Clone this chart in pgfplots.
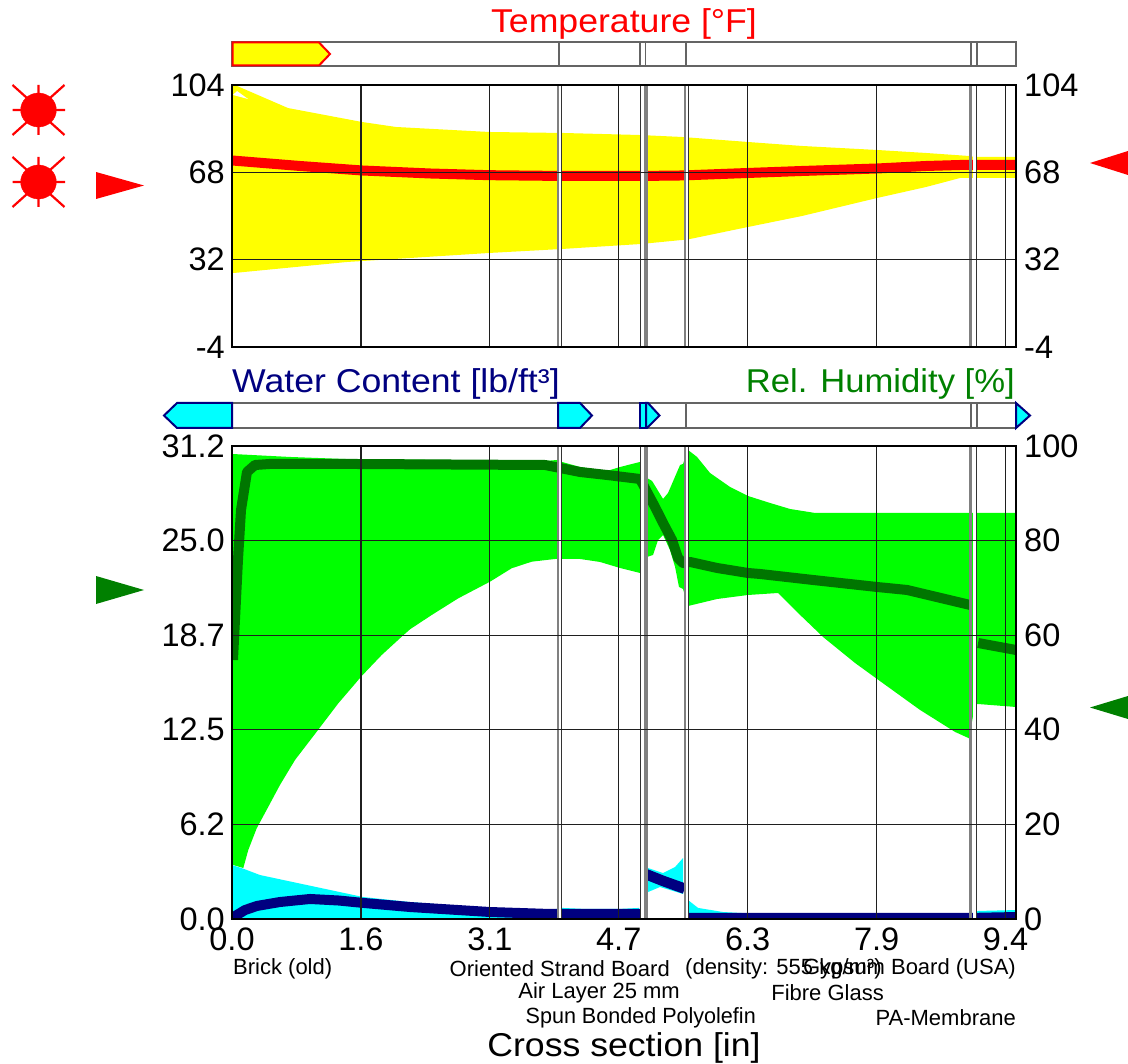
\documentclass[border=0pt]{standalone}
\usepackage{pgfplots}
\pgfplotsset{compat=1.18}
\usepackage{graphicx}
\usepackage{fontspec}
\setmainfont{Liberation Sans}
\newfontfamily\bigf[FakeStretch=1.08]{Liberation Sans}
\newcommand\bigt{\bigf\fontsize{33}{33}\selectfont}
\newcommand\tickt{\rmfamily\fontsize{32.5}{32.5}\selectfont}
\newcommand\smallt{\rmfamily\fontsize{22}{22}\selectfont}
\definecolor{dkgreen}{RGB}{0,128,0}
\definecolor{lngreen}{RGB}{0,118,0}
\definecolor{navyb}{RGB}{0,0,128}
\definecolor{hgreen}{RGB}{0,255,0}
\definecolor{hyellow}{RGB}{255,255,0}
\definecolor{hcyan}{RGB}{0,255,255}
\definecolor{hred}{RGB}{255,0,0}
\definecolor{bargray}{RGB}{100,100,100}

\pgfplotsset{
  panel/.style={
    scale only axis, width=784pt,
    xmin=0, xmax=9.578,
    xtick={0,1.575,3.15,4.725,6.3,7.875,9.45},
    major tick length=0pt,
    axis line style={line width=2.4pt, black},
    tick label style={font=\tickt, inner sep=0pt},
    unbounded coords=jump,
  },
  gridded/.style={
    xmajorgrids, ymajorgrids, axis on top,
    major grid style={line width=1.2pt, black!88},
  },
  barbox/.style={draw=bargray, line width=1.6pt, fill=white},
}

% layer boundaries, args: ymin ymax
\newcommand\layers[2]{
  \addplot[white, line width=3pt] coordinates {(4.001,#1)(4.001,#2) (nan,nan) (5.016,#1)(5.016,#2) (nan,nan) (5.553,#1)(5.553,#2) (nan,nan) (9.065,#1)(9.065,#2)};
  \addplot[gray, line width=2pt] coordinates {(3.979,#1)(3.979,#2) (nan,nan) (5.529,#1)(5.529,#2)};
  \addplot[gray, line width=3.2pt] coordinates {(5.058,#1)(5.058,#2) (nan,nan) (9.023,#1)(9.023,#2)};
  \addplot[black!80, line width=1pt] coordinates {(4.020,#1)(4.020,#2) (nan,nan) (4.985,#1)(4.985,#2) (nan,nan) (5.571,#1)(5.571,#2) (nan,nan) (9.090,#1)(9.090,#2)};
}

\begin{document}
\begin{tikzpicture}
\path[use as bounding box] (0,0) rectangle (1128pt,1064pt);

% ---- everything outside the plot frames, in pixel units
\begin{axis}[
  at={(0pt,0pt)}, anchor=south west,
  scale only axis, width=1128pt, height=1064pt,
  xmin=0, xmax=1128, ymin=0, ymax=1064, y dir=reverse,
  hide axis, clip=false, unbounded coords=jump,
]
% top bar
\addplot[barbox] coordinates {(232,42)(1016,42)(1016,66)(232,66)} -- cycle;
\addplot[bargray, line width=1.2pt] coordinates {(559,42)(559,66) (nan,nan) (640,42)(640,66) (nan,nan) (645.5,42)(645.5,66) (nan,nan) (686,42)(686,66) (nan,nan) (971,42)(971,66) (nan,nan) (977,42)(977,66)};
\addplot[fill=hyellow, draw=hred, line width=2pt] coordinates {(232.5,42.5)(319,42.5)(330,54)(319,65.5)(232.5,65.5)} -- cycle;
% water bar
\addplot[barbox] coordinates {(232,403)(1016,403)(1016,428)(232,428)} -- cycle;
\addplot[bargray, line width=1.2pt] coordinates {(559,403)(559,428) (nan,nan) (686,403)(686,428) (nan,nan) (971,403)(971,428) (nan,nan) (977,403)(977,428)};
\addplot[fill=hcyan, draw=navyb, line width=2pt] coordinates {(232,403)(177,403)(164,415.5)(177,428)(232,428)} -- cycle;
\addplot[fill=hcyan, draw=navyb, line width=2pt] coordinates {(558,403)(580,403)(592,415.5)(580,428)(558,428)} -- cycle;
\addplot[fill=hcyan, draw=navyb, line width=2pt] coordinates {(640,403)(646,403)(646,428)(640,428)} -- cycle;
\addplot[fill=hcyan, draw=navyb, line width=2pt] coordinates {(646,403)(648,403)(659.5,415.5)(647,428)(646,428)} -- cycle;
\addplot[fill=hcyan, draw=navyb, line width=2pt] coordinates {(1016,403)(1030,415.5)(1016,428)} -- cycle;
% suns
\addplot[only marks, mark=*, mark size=17pt, color=hred, mark options={xscale=1.05}] coordinates {(38.5,110)(38.5,182)};
\addplot[hred, line width=2.2pt] coordinates {(12.5,85)(27,98) (nan,nan) (64.5,85)(50,98) (nan,nan) (12.5,135)(27,122) (nan,nan) (64.5,135)(50,122) (nan,nan) (12.5,110)(21,110) (nan,nan) (56,110)(65,110) (nan,nan) (38.5,85)(38.5,93) (nan,nan) (38.5,127)(38.5,135)};
\addplot[hred, line width=2.2pt] coordinates {(12.5,157)(27,170) (nan,nan) (64.5,157)(50,170) (nan,nan) (12.5,207)(27,194) (nan,nan) (64.5,207)(50,194) (nan,nan) (12.5,182)(21,182) (nan,nan) (56,182)(65,182) (nan,nan) (38.5,157)(38.5,165) (nan,nan) (38.5,199)(38.5,207)};
% boundary condition pointers
\addplot[fill=hred, draw=none] coordinates {(96,172)(144,185.5)(96,199)} -- cycle;
\addplot[fill=hred, draw=none] coordinates {(1128,151)(1090,163)(1128,175)} -- cycle;
\addplot[fill=dkgreen, draw=none] coordinates {(96,576)(144,590)(96,604)} -- cycle;
\addplot[fill=dkgreen, draw=none] coordinates {(1128,696)(1090,707.5)(1128,719)} -- cycle;
% titles
\node[font=\bigt, text=hred, inner sep=0pt] at (axis cs:624,24) {Temperature [°F]};
\node[font=\bigt, text=navyb, inner sep=0pt, anchor=west] at (axis cs:232,384) {Water Content [lb/ft³]};
\node[font=\bigt, text=dkgreen, inner sep=0pt, anchor=east] at (axis cs:1015,384) {\scalebox{0.972}[1]{Rel. Humidity [\%]}};
\node[font=\bigt, inner sep=0pt] at (axis cs:624,1048) {Cross section [in]};
% layer names
\node[font=\smallt, inner sep=0pt, anchor=west] at (axis cs:233,969) {Brick (old)};
\node[font=\smallt, inner sep=0pt, anchor=east] at (axis cs:670,969) {Oriented Strand Board};
\node[font=\smallt, inner sep=0pt, anchor=west] at (axis cs:685,969) {(density: 555 kg/m³)};
\node[font=\smallt, inner sep=0pt, anchor=east] at (axis cs:1016,969) {Gypsum Board (USA)};
\node[font=\smallt, inner sep=0pt, anchor=east] at (axis cs:680,993) {Air Layer 25 mm};
\node[font=\smallt, inner sep=0pt, anchor=east] at (axis cs:884,993) {Fibre Glass};
\node[font=\smallt, inner sep=0pt, anchor=east] at (axis cs:756,1018) {\scalebox{0.98}[1]{Spun Bonded Polyolefin}};
\node[font=\smallt, inner sep=0pt, anchor=east] at (axis cs:1016,1018) {PA-Membrane};
\end{axis}

% ---- temperature
\begin{axis}[
  panel, gridded,
  at={(232pt,717pt)}, anchor=south west, height=262pt,
  ymin=-4, ymax=104, ytick={-4,32,68,104},
  yticklabels={-4,32,68,104},
  xticklabels={},
  yticklabel style={xshift=-7pt},
]
\addplot[fill=hyellow, draw=none] coordinates {
  (0,103.6) (0.061,103.6) (0.684,94.5) (1.588,88.75) (2.004,86.69) (3.140,84.63)
  (4.056,84.21) (4.973,83.39) (5.498,82.57) (6.304,80.5) (6.964,78.86) (7.881,77.21)
  (8.479,75.97) (9.005,74.73) (9.078,74.32) (9.578,74.32)
  (9.578,65.66) (8.895,65.66) (8.479,61.95) (7.881,57.42) (6.964,50.0) (6.304,45.47)
  (5.596,40.52) (5.498,40.11) (4.997,38.46) (4.032,36.4) (3.140,34.75) (1.405,31.04)
  (0.024,26.5) (0,26.5)
} -- cycle;
\addplot[fill=white, draw=none] coordinates {(0.012,99.88) (0.196,98.23) (0.061,101.5)} -- cycle;
\addplot[hred, line width=10pt, line join=round] coordinates {
  (0,72.88) (0.831,70.61) (1.588,68.76) (2.419,67.52) (3.140,66.82) (4.056,66.49)
  (4.985,66.49) (5.498,66.7) (6.304,67.73) (6.964,68.55) (7.881,69.58) (8.479,70.61)
  (8.895,71.02) (9.578,71.11)
};
\layers{-4}{104}
\end{axis}
\begin{axis}[
  panel,
  at={(232pt,717pt)}, anchor=south west, height=262pt,
  ymin=-4, ymax=104, ytick={-4,32,68,104},
  yticklabels={-4,32,68,104},
  xticklabels={},
  yticklabel pos=right,
  yticklabel style={xshift=8pt},
]
\addplot[draw=none] coordinates {(0,0)};
\end{axis}

% ---- relative humidity, right scale
\begin{axis}[
  panel,
  at={(232pt,145pt)}, anchor=south west, height=473pt,
  ymin=0, ymax=100, ytick={0,20,40,60,80,100},
  yticklabels={0,20,40,60,80,100},
  xticklabels={},
  yticklabel pos=right,
  yticklabel style={xshift=8pt},
]
\addplot[fill=hgreen, draw=none] coordinates {
  (0,98.31) (0.709,97.68) (1.381,97.25) (2.664,97.04) (3.824,96.83) (3.971,97.04)
  (4.032,96.62) (4.252,95.56) (4.582,94.72) (4.741,95.56) (4.985,96.62) (5.046,96.62)
  (5.070,93.24) (5.132,92.6) (5.266,88.8) (5.327,90.07) (5.474,95.98) (5.510,96.2)
  (5.571,99.16) (5.681,97.68) (5.840,94.29) (6.085,91.33) (6.304,89.43) (6.573,87.95)
  (6.818,86.68) (7.123,85.84) (9.578,85.84)
  (9.578,44.82) (9.115,45.45) (9.078,45.45) (9.005,38.2) (8.834,39.54) (8.406,44.19)
  (7.881,50.74) (7.612,54.12) (7.221,59.62) (6.903,64.9) (6.671,68.92) (6.304,68.5)
  (5.926,67.65) (5.571,66.17) (5.510,69.77) (5.461,70.19) (5.413,74.42) (5.351,78.01)
  (5.266,81.19) (5.205,80.13) (5.144,76.96) (5.070,76.53) (5.034,73.15) (4.985,73.15)
  (4.741,74.21) (4.496,75.48) (4.252,76.11) (3.946,76.11) (3.662,75.54) (3.417,74.15)
  (3.152,71.31) (2.765,67.8) (2.440,64.27) (2.175,61.25) (2.073,59.68) (1.829,55.81)
  (1.585,51.38) (1.299,45.6) (1.035,39.6) (0.770,33.62) (0.586,28.33) (0.444,23.74)
  (0.302,19.18) (0.199,14.59) (0.138,10.78) (0.012,11.42) (0,11.42)
} -- cycle;
\addplot[lngreen, line width=10pt, line join=round] coordinates {
  (0.012,54.76) (0.073,75.9) (0.110,86.47) (0.183,94.5) (0.281,95.98) (0.464,96.2)
  (1.442,96.2) (3.824,95.98) (4.252,94.5) (4.582,93.87) (4.985,93.02) (5.070,90.28)
  (5.168,87.1) (5.266,83.72) (5.376,80.13) (5.449,76.32) (5.510,75.27) (5.596,75.48)
  (5.926,74.21) (6.304,73.15) (6.451,72.94) (7.099,71.67) (7.881,70.19) (8.247,69.56) (9.017,66.39)
  (nan,nan)
  (9.115,58.35) (9.578,56.87)
};
\end{axis}

% ---- water content, left scale
\begin{axis}[
  panel, gridded,
  at={(232pt,145pt)}, anchor=south west, height=473pt,
  ymin=0, ymax=31.2, ytick={0,6.24,12.48,18.72,24.96,31.2},
  yticklabels={0.0,6.2,12.5,18.7,25.0,31.2},
  xticklabels={0.0,1.6,3.1,4.7,6.3,7.9,9.4},
  xticklabel style={yshift=-9pt},
  yticklabel style={xshift=-7pt},
]
\addplot[fill=hcyan, draw=none] coordinates {
  (0,3.56) (0.147,3.30) (0.342,2.90) (1.601,1.45) (2.175,1.12) (3.067,0.73) (3.885,0.59)
  (4.032,0.73) (4.325,0.66) (4.716,0.66) (4.973,0.73) (4.973,0) (0,0)
} -- cycle;
\addplot[fill=hcyan, draw=none] coordinates {
  (5.083,3.36) (5.266,3.03) (5.413,3.43) (5.510,4.02) (5.510,1.65) (5.229,2.11) (5.083,1.78)
} -- cycle;
\addplot[fill=hcyan, draw=none] coordinates {
  (5.571,1.25) (5.694,0.73) (5.999,0.46) (6.451,0.33) (9.017,0.33) (9.115,0.53) (9.578,0.59)
  (9.578,0) (5.571,0)
} -- cycle;
\addplot[navyb, line width=10pt, line join=round] coordinates {
  (0,0.07) (0.159,0.59) (0.305,0.86) (0.586,1.12) (0.953,1.32) (1.3,1.22) (1.601,1.06)
  (2.175,0.79) (3.152,0.46) (3.885,0.33) (4.985,0.33)
};
\addplot[navyb, line width=10.5pt] coordinates {(5.05,2.97) (5.266,2.51) (5.53,2.0)};
\addplot[navyb, line width=3pt] coordinates {(5.028,0) (5.028,0.2)};
\addplot[navyb, line width=10pt] coordinates {(5.571,0.07) (9.017,0.07) (9.578,0.13)};
\layers{0}{31.2}
\end{axis}
\end{tikzpicture}
\end{document}
